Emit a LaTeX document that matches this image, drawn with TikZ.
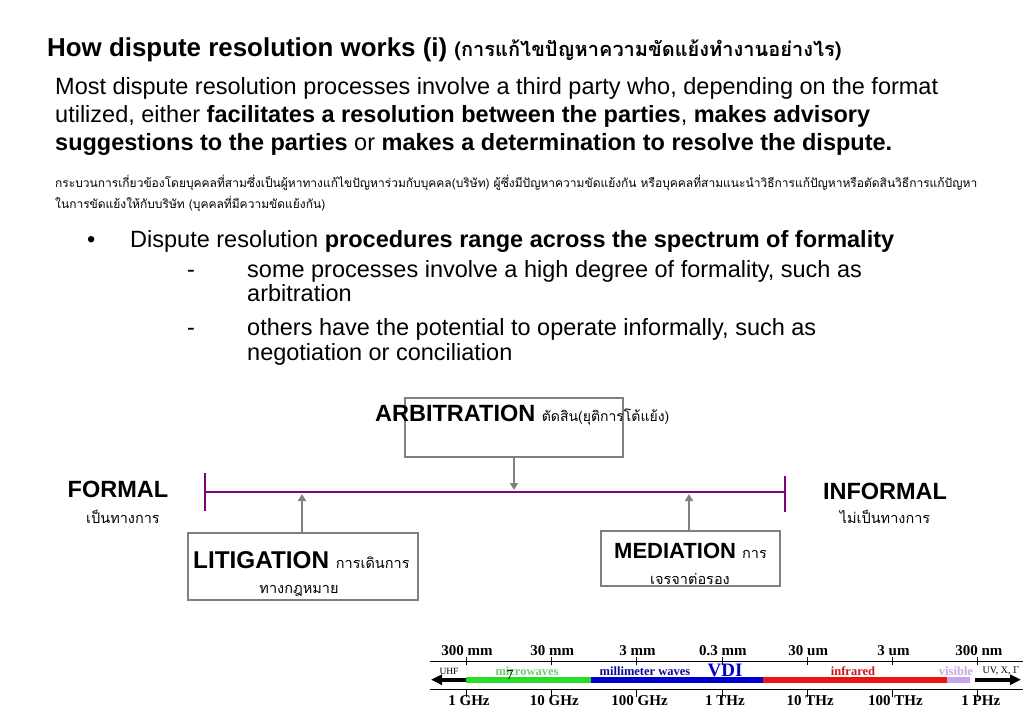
\documentclass[tikz,border=0pt]{standalone}
\usepackage{fontspec}
\setmainfont{Liberation Sans}
\newfontfamily\thai[Script=Thai]{Loma}
\newfontfamily\tms{Liberation Serif}
\usetikzlibrary{arrows.meta}

\definecolor{boxgray}{RGB}{128,128,128}
\definecolor{formline}{RGB}{128,0,128}
\definecolor{mwgreen}{RGB}{40,220,40}
\definecolor{mwtext}{RGB}{110,205,110}
\definecolor{mmblue}{RGB}{0,0,205}
\definecolor{mmtext}{RGB}{10,10,150}
\definecolor{irred}{RGB}{235,20,20}
\definecolor{irtext}{RGB}{210,20,20}
\definecolor{vislav}{RGB}{200,165,232}

\tikzset{
  txt/.style={anchor=base west, inner sep=0pt},
  title/.style={txt, font=\fontsize{25.9}{30}\selectfont\bfseries},
  body/.style={txt, font=\fontsize{23.5}{28}\selectfont},
  note/.style={txt, font=\thai\fontsize{12}{15}\selectfont},
  head/.style={anchor=base, inner sep=0pt, font=\fontsize{23.5}{28}\selectfont\bfseries},
  sub/.style={anchor=base, inner sep=0pt, font=\thai\fontsize{14.5}{18}\selectfont},
  formbox/.style={draw=boxgray, line width=2.6pt, inner sep=0pt},
  pointer/.style={draw=boxgray, line width=2.6pt, -{Triangle[length=7pt,width=8pt]}},
  spec/.style={anchor=base, inner sep=0pt, font=\tms\bfseries\fontsize{15}{18}\selectfont},
  band/.style={anchor=base, inner sep=0pt, font=\tms\bfseries\fontsize{12.5}{15}\selectfont}
}

\begin{document}
\begin{tikzpicture}[x=1pt, y=-1pt]
    \useasboundingbox[fill=white] (0,0) rectangle (1023,708);

    \node[title] (ttl) at (47,57) {How dispute resolution works (i) {\thai\fontsize{20}{24}\selectfont(การแก้ไขปัญหาความขัดแย้งทำงานอย่างไร)}};

    \node[body] (p1) at (55,95) {Most dispute resolution processes involve a third party who, depending on the format};
    \node[body] (p2) at (55,123) {utilized, either \textbf{facilitates a resolution between the parties}, \textbf{makes advisory}};
    \node[body] (p3) at (55,151) {\textbf{suggestions to the parties} or \textbf{makes a determination to resolve the dispute.}};

    \node[note] (n1) at (55,188) {กระบวนการเกี่ยวข้องโดยบุคคลที่สามซึ่งเป็นผู้หาทางแก้ไขปัญหาร่วมกับบุคคล(บริษัท) ผู้ซึ่งมีปัญหาความขัดแย้งกัน หรือบุคคลที่สามแนะนำวิธีการแก้ปัญหาหรือตัดสินวิธีการแก้ปัญหา};
    \node[note] (n2) at (55,209) {ในการขัดแย้งให้กับบริษัท (บุคคลที่มีความขัดแย้งกัน)};

    \node[body] (b0) at (87,248) {\textbullet};
    \node[body] (b1) at (130,248) {Dispute resolution \textbf{procedures range across the spectrum of formality}};
    \node[body] (d1) at (187,278) {-};
    \node[body] (s1) at (247,278) {some processes involve a high degree of formality, such as};
    \node[body] (s1b) at (247,302) {arbitration};
    \node[body] (d2) at (187,336) {-};
    \node[body] (s2) at (247,336) {others have the potential to operate informally, such as};
    \node[body] (s2b) at (247,361) {negotiation or conciliation};

    % spectrum of formality
    \coordinate (lft) at (205,492);
    \coordinate (rgt) at (785,492);
    \draw[formline, line width=2.8pt] (lft) -- (rgt);
    \draw[formline, line width=2.8pt] (205,473) -- (205,511);
    \draw[formline, line width=2.8pt] (785,476) -- (785,512);

    \node[head] (formal) at (118,497) {FORMAL};
    \node[sub] (formalth) at (123,523) {เป็นทางการ};
    \node[head] (informal) at (885,499) {INFORMAL};
    \node[sub] (informalth) at (885,523) {ไม่เป็นทางการ};

    \node[formbox, minimum width=218, minimum height=59] (arb) at (514,427.5) {};
    \node[formbox, minimum width=230, minimum height=67] (lit) at (303,566.5) {};
    \node[formbox, minimum width=179, minimum height=55] (med) at (690.5,558.5) {};

    \node[head, anchor=base west] (arbtxt) at (375,421) {ARBITRATION {\thai\mdseries\fontsize{14}{18}\selectfont ตัดสิน(ยุติการโต้แย้ง)}};
    \node[head, anchor=base west, font=\fontsize{24.3}{28}\selectfont\bfseries] (littxt) at (193,568) {LITIGATION {\thai\mdseries\fontsize{14.5}{18}\selectfont การเดินการ}};
    \node[sub] (litth) at (299,593) {ทางกฎหมาย};
    \node[head, anchor=base west, font=\fontsize{22}{26}\selectfont\bfseries] (medtxt) at (614,558) {MEDIATION {\thai\mdseries\fontsize{14.5}{18}\selectfont การ}};
    \node[sub] (medth) at (690,584) {เจรจาต่อรอง};

    \coordinate (arbhit) at (514,490);
    \coordinate (lithit) at (302,494);
    \coordinate (medhit) at (689,494);
    \draw[pointer] (arb.south -| arbhit) -- (arbhit);
    \draw[pointer] (lit.north -| lithit) -- (lithit);
    \draw[pointer] (med.north -| medhit) -- (medhit);

    % frequency band strip
    \draw[line width=0.8pt] (430,661) -- (1023,661);
    \draw[line width=0.8pt] (430,689) -- (1023,689);
    \foreach \k/\up/\dn in {0/300 mm/1 GHz, 1/30 mm/10 GHz, 2/3 mm/100 GHz, 3/0.3 mm/1 THz, 4/30 um/10 THz, 5/3 um/100 THz, 6/300 nm/1 PHz} {
      \draw[line width=0.8pt] (466+85.3*\k,657) -- (466+85.3*\k,665);
      \draw[line width=0.8pt] (466+85.3*\k,689) -- (466+85.3*\k,697);
      \node[spec] (up\k) at (466+85.3*\k+1,655) {\up};
      \node[spec] (dn\k) at (466+85.3*\k+3,705) {\dn};
    }

    \fill[mwgreen] (466,677) rectangle (591,682.5);
    \fill[mmblue] (591,677) rectangle (763,682.5);
    \fill[irred] (763,677) rectangle (947,682.5);
    \fill[vislav] (947,677) rectangle (970,682.5);
    \draw[line width=4pt, -{Triangle[length=11pt,width=10pt]}] (466,679.7) -- (431,679.7);
    \draw[line width=4pt, -{Triangle[length=11pt,width=10pt]}] (975,679.7) -- (1021,679.7);

    \node[band, font=\tms\fontsize{9.5}{11}\selectfont] (uhf) at (449,674) {UHF};
    \node[band, mwtext] (mw) at (527,675) {microwaves};
    \node[band, mmtext] (mm) at (645,675) {millimeter waves};
    \node[band, mmblue, font=\tms\bfseries\fontsize{19}{22}\selectfont] (vdi) at (725,676) {VDI};
    \node[band, irtext] (ir) at (853,675) {infrared};
    \node[band, vislav] (vis) at (956,675) {visible};
    \node[band, font=\tms\fontsize{10}{12}\selectfont] (uv) at (1001,673) {UV, X, $\Gamma$};
    \node[band, font=\tms\fontsize{14}{16}\selectfont] (pg) at (510,679) {7};
\end{tikzpicture}
\end{document}
